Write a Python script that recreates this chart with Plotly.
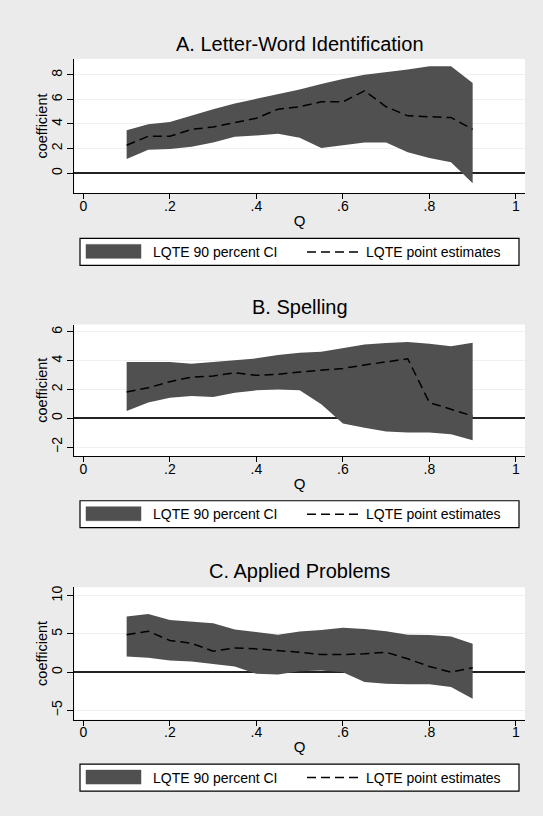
import plotly.graph_objects as go

W, H = 543, 816

q = [0.10, 0.15, 0.20, 0.25, 0.30, 0.35, 0.40, 0.45, 0.50, 0.55, 0.60, 0.65, 0.70, 0.75, 0.80, 0.85, 0.90]

# Panel A: Letter-Word Identification
a_upper = [3.48, 3.97, 4.16, 4.70, 5.20, 5.67, 6.03, 6.44, 6.80, 7.26, 7.67, 8.00, 8.20, 8.44, 8.70, 8.70, 7.34]
a_lower = [1.15, 1.90, 1.97, 2.14, 2.50, 2.96, 3.07, 3.20, 2.88, 2.05, 2.27, 2.50, 2.50, 1.70, 1.23, 0.88, -0.82]
a_point = [2.27, 3.00, 3.00, 3.56, 3.75, 4.10, 4.47, 5.20, 5.40, 5.80, 5.80, 6.70, 5.40, 4.66, 4.57, 4.52, 3.56]

# Panel B: Spelling
b_upper = [3.90, 3.90, 3.90, 3.79, 3.90, 4.00, 4.16, 4.39, 4.55, 4.62, 4.90, 5.13, 5.22, 5.29, 5.17, 5.00, 5.24]
b_lower = [0.50, 1.09, 1.43, 1.55, 1.48, 1.78, 1.94, 2.00, 1.94, 0.97, -0.37, -0.65, -0.92, -0.99, -0.99, -1.10, -1.52]
b_point = [1.82, 2.12, 2.54, 2.86, 2.93, 3.16, 2.98, 3.05, 3.21, 3.33, 3.46, 3.70, 3.93, 4.13, 1.09, 0.62, 0.16]

# Panel C: Applied Problems
c_upper = [7.26, 7.60, 6.83, 6.60, 6.40, 5.57, 5.20, 4.90, 5.30, 5.50, 5.80, 5.65, 5.35, 4.90, 4.87, 4.65, 3.70]
c_lower = [2.04, 1.87, 1.52, 1.39, 1.09, 0.74, -0.22, -0.30, 0.13, 0.22, 0.00, -1.30, -1.52, -1.60, -1.60, -1.96, -3.48]
c_point = [4.90, 5.35, 4.13, 3.78, 2.74, 3.17, 3.04, 2.83, 2.60, 2.30, 2.30, 2.40, 2.60, 1.74, 0.74, 0.00, 0.57]

titles = ["A. Letter-Word Identification", "B. Spelling", "C. Applied Problems"]
x_ticks = [0, 0.2, 0.4, 0.6, 0.8, 1]
x_ticktext = ["0", ".2", ".4", ".6", ".8", "1"]
y_ticks = [[0, 2, 4, 6, 8], [-2, 0, 2, 4, 6], [-5, 0, 5, 10]]
y_ranges = [[-1.64, 9.3], [-2.61, 6.51], [-6.2, 11.1]]
ci_name = "LQTE 90 percent CI"
pt_name = "LQTE point estimates"
x_title = "Q"
y_title = "coefficient"

FONT = "Liberation Sans, Arial, sans-serif"
FILL = "#505050"
DASH = "9px,5px"

panels = [(a_upper, a_lower, a_point), (b_upper, b_lower, b_point), (c_upper, c_lower, c_point)]

# pixel layout of each panel
plot_px = [(57, 191.7), (323.3, 455), (586.7, 719.3)]
title_px = [42, 306, 570]
legend_top_px = [237, 500, 764]
x_left, x_right = 74.3, 525.0


def px(xp):
    return xp / W


def py(yp):
    return 1 - yp / H


fig = go.Figure()
annotations = []
shapes = []
layout = dict(
    width=W, height=H,
    margin=dict(l=0, r=0, t=0, b=0),
    paper_bgcolor="#ebebeb",
    plot_bgcolor="white",
    font=dict(family=FONT, size=14, color="black"),
    showlegend=False,
)

for i, (up, lo, pt) in enumerate(panels):
    n = i + 1
    xa = "x" if n == 1 else f"x{n}"
    ya = "y" if n == 1 else f"y{n}"
    fig.add_trace(go.Scatter(
        x=q + q[::-1], y=up + lo[::-1], fill="toself", fillcolor=FILL,
        mode="lines", line=dict(width=0, color=FILL), name=ci_name,
        xaxis=xa, yaxis=ya, hoverinfo="skip"))
    fig.add_trace(go.Scatter(
        x=q, y=pt, mode="lines", line=dict(color="black", width=1.5, dash=DASH),
        name=pt_name, xaxis=xa, yaxis=ya))
    top, bot = plot_px[i]
    xkey = "xaxis" if n == 1 else f"xaxis{n}"
    ykey = "yaxis" if n == 1 else f"yaxis{n}"
    layout[xkey] = dict(
        domain=[px(x_left), px(x_right)], anchor=ya, range=[-0.021, 1.021],
        tickvals=x_ticks, ticktext=x_ticktext, ticks="outside", ticklen=5,
        tickcolor="black", showline=True, linecolor="black", linewidth=1.2,
        showgrid=False, zeroline=False, tickfont=dict(size=14),
        ticklabelstandoff=-5,
        title=dict(text=x_title, font=dict(size=15), standoff=2), fixedrange=True)
    layout[ykey] = dict(
        domain=[py(bot), py(top)], anchor=xa, range=y_ranges[i],
        tickvals=y_ticks[i], ticks="outside", ticklen=6, tickcolor="black",
        tickangle=-90, showline=True, linecolor="black", linewidth=1.2,
        showgrid=True, gridcolor="#f0f0f0", gridwidth=1,
        zeroline=True, zerolinecolor="#222222", zerolinewidth=1.5,
        tickfont=dict(size=14), fixedrange=True)

    # y-axis title (placed tight against the rotated tick labels)
    annotations.append(dict(
        text=y_title, x=px(42.5), y=py((top + bot) / 2), xref="paper", yref="paper",
        showarrow=False, xanchor="center", yanchor="middle", textangle=-90,
        font=dict(size=14.5)))

    # panel title
    annotations.append(dict(
        text=titles[i], x=px((x_left + x_right) / 2), y=py(title_px[i]),
        xref="paper", yref="paper", showarrow=False, xanchor="center",
        yanchor="middle", font=dict(size=20)))

    # legend box
    T = legend_top_px[i]
    mid = T + 13.5
    shapes.append(dict(type="rect", xref="paper", yref="paper",
                       x0=px(80), x1=px(519), y0=py(T + 27), y1=py(T),
                       line=dict(color="black", width=1.2), fillcolor="white", layer="above"))
    shapes.append(dict(type="rect", xref="paper", yref="paper",
                       x0=px(86), x1=px(141), y0=py(T + 20), y1=py(T + 6),
                       line=dict(color=FILL, width=0.5), fillcolor=FILL, layer="above"))
    shapes.append(dict(type="line", xref="paper", yref="paper",
                       x0=px(307), x1=px(358), y0=py(mid), y1=py(mid),
                       line=dict(color="black", width=1.5, dash=DASH), layer="above"))
    annotations.append(dict(
        text=ci_name, x=px(151), y=py(mid), xref="paper", yref="paper",
        showarrow=False, xanchor="left", yanchor="middle", font=dict(size=14)))
    annotations.append(dict(
        text=pt_name, x=px(364), y=py(mid), xref="paper", yref="paper",
        showarrow=False, xanchor="left", yanchor="middle", font=dict(size=14)))

layout["annotations"] = annotations
layout["shapes"] = shapes
fig.update_layout(**layout)
fig.write_html("out.html")
